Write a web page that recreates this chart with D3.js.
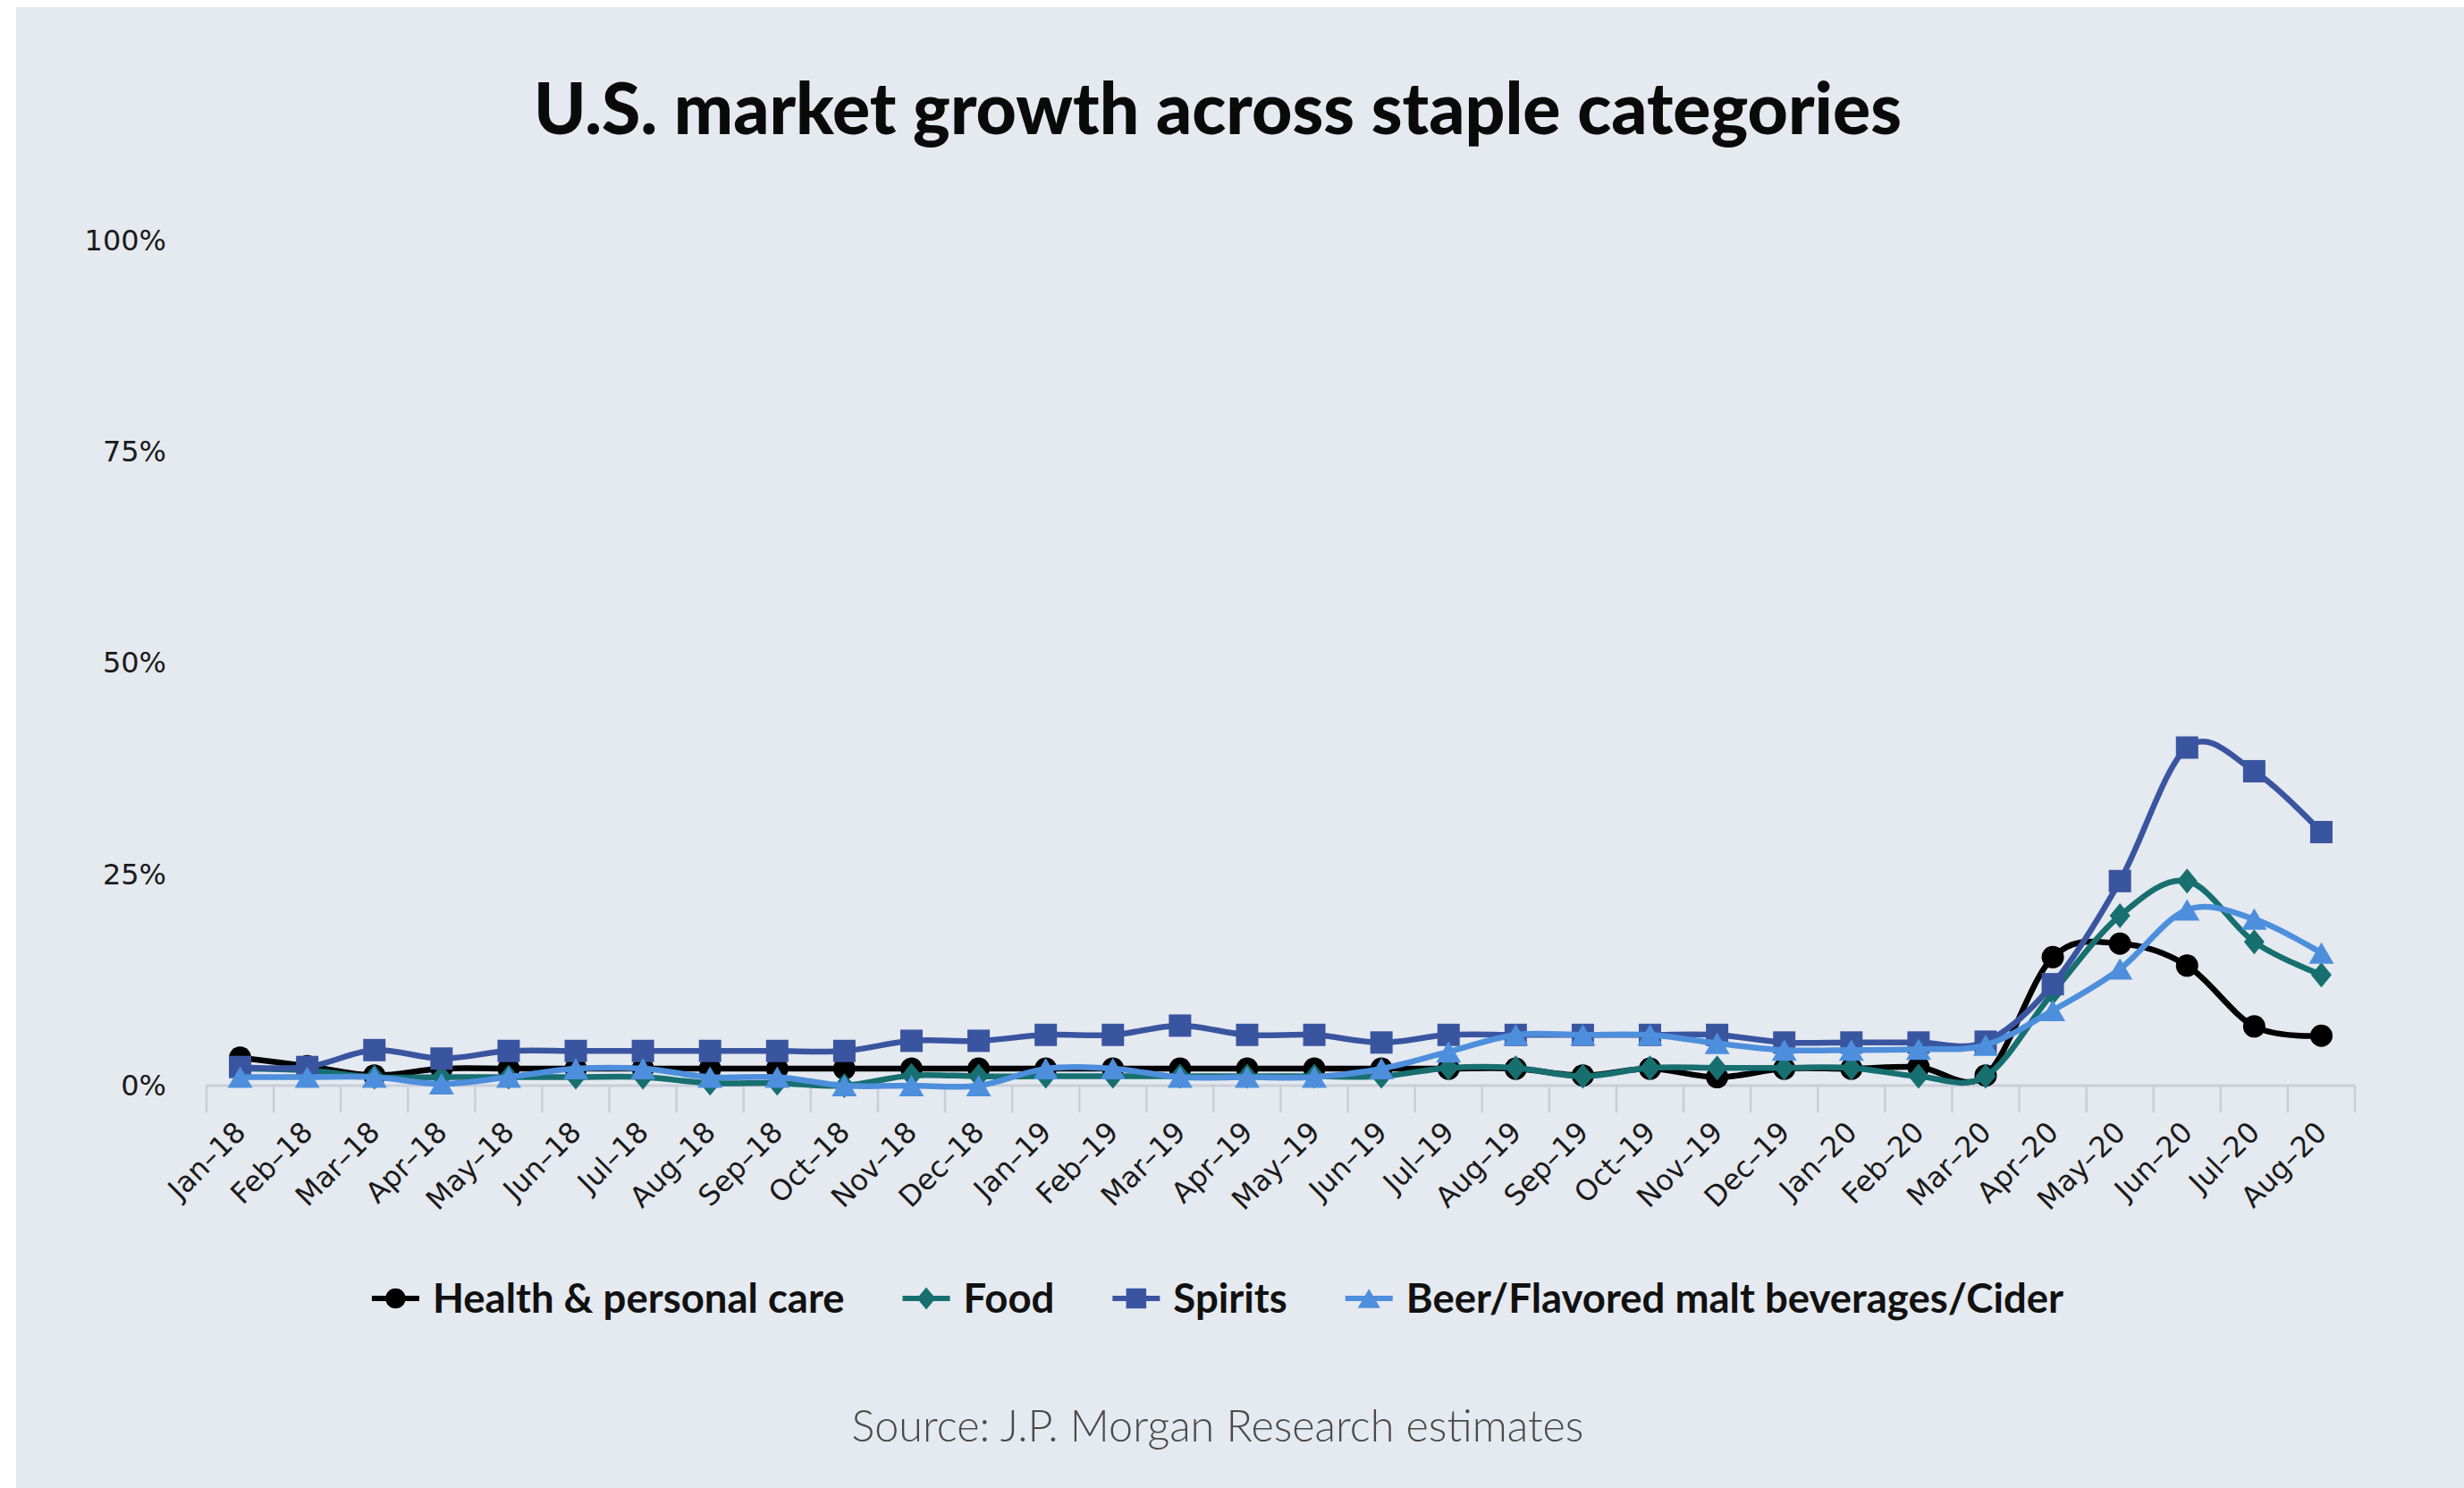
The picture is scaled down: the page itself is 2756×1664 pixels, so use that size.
<!DOCTYPE html>
<html lang="en">
<head>
<meta charset="utf-8" />
<style>
body { margin: 0; background: #ffffff; }
.tickLabel { font-family: "DejaVu Sans", Verdana, sans-serif; font-size: 32px; fill: #1a1a1a; }
.legendLabel { font-family: Lato, "Open Sans", sans-serif; font-weight: 700; font-size: 45.5px; fill: #111; }
.chartTitle { font-family: Lato, "Open Sans", sans-serif; font-weight: 900; font-size: 80px; fill: #0a0a0a; text-anchor: middle; }
.chartSource { font-family: Lato, "Open Sans", sans-serif; font-weight: 300; font-size: 48.5px; fill: #4a4a4a; text-anchor: middle; }
</style>
</head>
<body>
<script src="https://cdnjs.cloudflare.com/ajax/libs/d3/7.8.5/d3.min.js"></script>
<script>
// categories (monthly)
var months = ["Jan–18","Feb–18","Mar–18","Apr–18","May–18","Jun–18","Jul–18","Aug–18","Sep–18","Oct–18","Nov–18","Dec–18",
              "Jan–19","Feb–19","Mar–19","Apr–19","May–19","Jun–19","Jul–19","Aug–19","Sep–19","Oct–19","Nov–19","Dec–19",
              "Jan–20","Feb–20","Mar–20","Apr–20","May–20","Jun–20","Jul–20","Aug–20"];

// series values, % growth
var health  = [3.3, 2.3, 1.2, 2, 2, 2, 2, 2, 2, 2, 2, 2,
               2, 2, 2, 2, 2, 2, 2, 2, 1.2, 2, 1, 2,
               2, 2.2, 1.2, 15.2, 16.8, 14.2, 7, 5.9];
var food    = [2, 1.8, 1, 1, 1, 1, 1, 0.3, 0.3, 0, 1.2, 1.1,
               1.1, 1.1, 1.1, 1.1, 1.1, 1.1, 2.1, 2.1, 1.1, 2.1, 2.1, 2.1,
               2.1, 1.1, 1.1, 11, 20.1, 24.2, 17, 13.1];
var spirits = [2.2, 2.2, 4.2, 3.2, 4.1, 4.1, 4.1, 4.1, 4.1, 4.1, 5.3, 5.3,
               6, 6, 7.1, 6, 6, 5.1, 6, 6, 6, 6, 6, 5.1,
               5.1, 5.1, 5.2, 12, 24.2, 40, 37.2, 30];
var beer    = [1, 1, 1, 0.2, 1, 2, 2, 1, 1, 0, 0, 0,
               2, 2, 1, 1, 1, 2, 4, 6, 6, 6, 5, 4.2,
               4.2, 4.3, 4.8, 8.9, 13.8, 20.8, 19.7, 15.7];

var seriesNames = ["Health & personal care", "Food", "Spirits", "Beer/Flavored malt beverages/Cider"];
var yTicks = [0, 25, 50, 75, 100];

var titleText = "U.S. market growth across staple categories";
var sourceText = "Source: J.P. Morgan Research estimates";

var width = 2756, height = 1664;

var series = [
    { name: seriesNames[0], values: health,  color: "#000000", shape: "circle" },
    { name: seriesNames[1], values: food,    color: "#176f70", shape: "diamond" },
    { name: seriesNames[2], values: spirits, color: "#3a55a0", shape: "square" },
    { name: seriesNames[3], values: beer,    color: "#4d8fdc", shape: "triangle" }
];

function markerPath(shape, s) {
    // s = scale factor, 1 for plot markers
    if (shape == "circle") return d3.symbol(d3.symbolCircle, Math.PI * Math.pow(12.5 * s, 2))();
    if (shape == "square") { var h = 12.5 * s; return "M" + (-h) + "," + (-h) + "H" + h + "V" + h + "H" + (-h) + "Z"; }
    if (shape == "diamond") { var w = 11.5 * s, t = 14 * s; return "M0," + (-t) + "L" + w + ",0L0," + t + "L" + (-w) + ",0Z"; }
    var a = 14 * s, b = 12 * s;
    return "M0," + (-b) + "L" + a + "," + b + "L" + (-a) + "," + b + "Z";
}

var svg = d3.select("body").append("svg")
    .attr("width", width)
    .attr("height", height);

svg.append("rect")
    .attr("x", 18).attr("y", 8)
    .attr("width", width - 18).attr("height", height - 8)
    .attr("fill", "#e5e9f0");

svg.append("text")
    .attr("class", "chartTitle")
    .attr("x", 1362).attr("y", 150)
    .attr("textLength", 1530)
    .attr("lengthAdjust", "spacingAndGlyphs")
    .text(titleText);

var x = d3.scaleBand().domain(months).range([231, 2634]);
var y = d3.scaleLinear().domain([0, 100]).range([1214, 269]);
var cx = function (i) { return x(months[i]) + x.bandwidth() / 2; };

// y axis labels only
var yAxis = svg.append("g")
    .attr("transform", "translate(186,0)")
    .call(d3.axisLeft(y).tickValues(yTicks).tickFormat(function (d) { return d + "%"; }).tickSize(0).tickPadding(0));
yAxis.select(".domain").remove();
yAxis.selectAll("text").attr("class", "tickLabel").attr("font-family", null).attr("font-size", null).attr("fill", null);

// x axis baseline and boundary ticks
var axisColor = "#c9ced7";
svg.append("line")
    .attr("x1", x.range()[0]).attr("x2", x.range()[1])
    .attr("y1", y(0)).attr("y2", y(0))
    .attr("stroke", axisColor).attr("stroke-width", 3);

var bounds = months.map(function (m) { return x(m); }).concat([x.range()[1]]);
svg.selectAll(".xtick")
    .data(bounds)
  .enter().append("line")
    .attr("class", "xtick")
    .attr("x1", function (d) { return d; }).attr("x2", function (d) { return d; })
    .attr("y1", y(0)).attr("y2", y(0) + 30)
    .attr("stroke", axisColor).attr("stroke-width", 2.5);

svg.selectAll(".xlabel")
    .data(months)
  .enter().append("text")
    .attr("class", "tickLabel")
    .attr("text-anchor", "end")
    .attr("transform", function (d, i) { return "translate(" + (cx(i) + 8) + "," + 1268 + ") rotate(-45)"; })
    .text(function (d) { return d; });

// series lines and markers
var line = d3.line()
    .x(function (d, i) { return cx(i); })
    .y(function (d) { return y(d); })
    .curve(d3.curveCatmullRom.alpha(0));

series.forEach(function (s) {
    var g = svg.append("g");
    g.append("path")
        .attr("d", line(s.values))
        .attr("fill", "none")
        .attr("stroke", s.color)
        .attr("stroke-width", 6.5)
        .attr("stroke-linejoin", "round");
    g.selectAll(".marker")
        .data(s.values)
      .enter().append("path")
        .attr("d", markerPath(s.shape, 1))
        .attr("transform", function (d, i) { return "translate(" + cx(i) + "," + y(d) + ")"; })
        .attr("fill", s.color);
});

// legend
var legend = svg.append("g");
var lx = 0;
series.forEach(function (s, k) {
    var it = legend.append("g");
    it.append("line")
        .attr("x1", 0).attr("x2", 53)
        .attr("y1", 0).attr("y2", 0)
        .attr("stroke", s.color).attr("stroke-width", 6);
    it.append("path")
        .attr("d", markerPath(s.shape, 0.9))
        .attr("transform", "translate(26.5,0)")
        .attr("fill", s.color);
    var t = it.append("text")
        .attr("class", "legendLabel")
        .attr("x", 68).attr("y", 16)
        .text(s.name);
    var w = 68 + t.node().getComputedTextLength();
    it.attr("transform", "translate(" + lx + ",0)");
    lx += w + 65;
});
lx -= 65;
legend.attr("transform", "translate(" + (1362 - lx / 2) + ",1452)");

svg.append("text")
    .attr("class", "chartSource")
    .attr("x", 1362).attr("y", 1612)
    .text(sourceText);
</script>
</body>
</html>
